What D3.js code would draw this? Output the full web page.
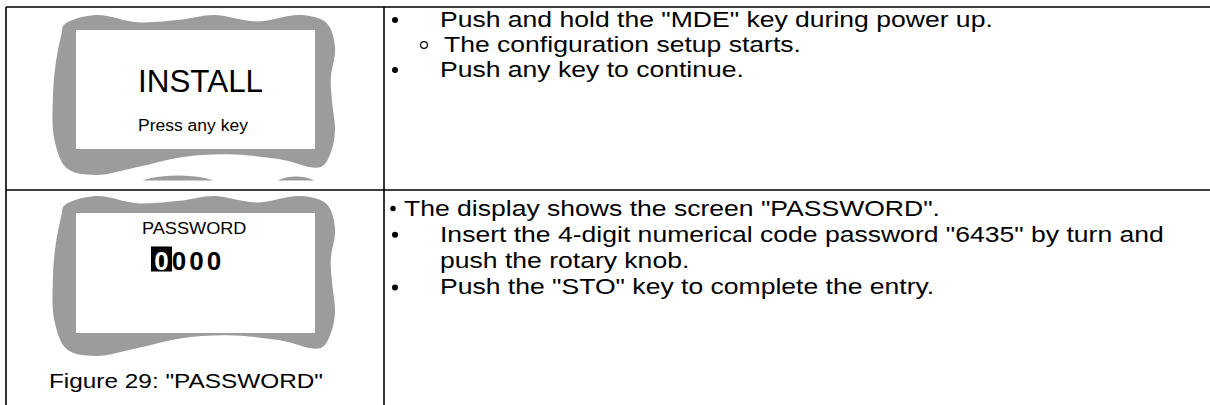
<!DOCTYPE html>
<html><head><meta charset="utf-8">
<script src="https://cdn.jsdelivr.net/npm/d3@7"></script>
<style>html,body{margin:0;padding:0;background:#fff;}svg{display:block;}</style>
</head><body>
<script>
// ---- content ----
const screenTitles = ["INSTALL", "PASSWORD"];
const screenSubtitles = ["Press any key"];
const passwordDigits = ["0", "0", "0", "0"];
const highlightedDigit = 0;
const captionText = 'Figure 29: "PASSWORD"';
const row1Lines = [
  {bullet: "disc", text: 'Push and hold the "MDE" key during power up.'},
  {bullet: "circle", text: "The configuration setup starts."},
  {bullet: "disc", text: "Push any key to continue."}
];
const row2Lines = [
  {bullet: "tight", text: 'The display shows the screen "PASSWORD".'},
  {bullet: "disc", text: 'Insert the 4-digit numerical code password "6435" by turn and'},
  {bullet: "none", text: "push the rotary knob."},
  {bullet: "disc", text: 'Push the "STO" key to complete the entry.'}
];
// wavy frame outline, normalised (u,v) in the frame box
const frameOutline = [
  [0.04,0.06],[0.15,0.0],[0.3,0.045],[0.45,0.03],[0.57,0.0],[0.72,0.04],[0.88,0.0],[0.97,0.05],
  [1.0,0.2],[0.985,0.4],[0.99,0.55],[1.0,0.72],[0.985,0.86],[0.95,0.95],
  [0.8,0.9],[0.62,0.87],[0.45,0.89],[0.3,0.95],[0.15,1.0],[0.05,0.96],
  [0.005,0.78],[0.0,0.5],[0.01,0.3],[0.03,0.12]
];

const W = 1210, H = 405;
const FONT = "'Liberation Sans', Arial, Helvetica, sans-serif";
const svg = d3.select("body").append("svg").attr("width", W).attr("height", H);

// table grid
const tableTop = 7, tableLeft = 6, colDiv = 384, rowDiv = 190;
const grid = svg.append("g").attr("stroke", "#000").attr("stroke-width", 1.6);
grid.append("line").attr("x1", tableLeft).attr("x2", W).attr("y1", tableTop).attr("y2", tableTop);
grid.append("line").attr("x1", tableLeft).attr("x2", W).attr("y1", rowDiv).attr("y2", rowDiv);
grid.append("line").attr("x1", tableLeft).attr("x2", tableLeft).attr("y1", tableTop).attr("y2", H);
grid.append("line").attr("x1", colDiv).attr("x2", colDiv).attr("y1", tableTop).attr("y2", H);

// frames
function drawFrame(g, box, inner) {
  const sx = d3.scaleLinear().domain([0, 1]).range([box.x0, box.x1]);
  const sy = d3.scaleLinear().domain([0, 1]).range([box.y0, box.y1]);
  const line = d3.line().x(d => sx(d[0])).y(d => sy(d[1])).curve(d3.curveCatmullRomClosed.alpha(0.5));
  g.append("path").attr("d", line(frameOutline)).attr("fill", "#9c9c9c");
  g.append("rect").attr("x", inner.x0).attr("y", inner.y0)
    .attr("width", inner.x1 - inner.x0).attr("height", inner.y1 - inner.y0).attr("fill", "#fff");
}
const frames = svg.append("g");
drawFrame(frames, {x0: 53, x1: 335, y0: 15, y1: 175}, {x0: 76, x1: 315, y0: 30, y1: 149});
drawFrame(frames, {x0: 53, x1: 335, y0: 196, y1: 356}, {x0: 76, x1: 315, y0: 213, y1: 333});

// ghost slivers of a clipped frame below screen 1
svg.append("clipPath").attr("id", "c1").append("rect").attr("x", 0).attr("y", 0).attr("width", colDiv).attr("height", 180.5);
const ghost = svg.append("g").attr("clip-path", "url(#c1)").attr("fill", "#9c9c9c");
ghost.append("ellipse").attr("cx", 178).attr("cy", 184).attr("rx", 38).attr("ry", 8.5);
ghost.append("ellipse").attr("cx", 296).attr("cy", 184).attr("rx", 20).attr("ry", 7.5);

function stretchedText(g, x, y, txt, size, sx, opts = {}) {
  return g.append("text").attr("transform", `translate(${x},${y}) scale(${sx},1)`)
    .attr("font-family", FONT).attr("font-size", size)
    .attr("font-weight", opts.weight || "normal")
    .attr("fill", opts.fill || "#000").text(txt);
}

// screen 1 text
stretchedText(svg, 138, 92, screenTitles[0], 30.5, 1.03);
stretchedText(svg, 138, 131, screenSubtitles[0], 17, 1.03);

// screen 2 text
stretchedText(svg, 142, 234, screenTitles[1], 16.5, 1.1);
const digitX = d3.scalePoint().domain(d3.range(passwordDigits.length)).range([161.5, 214]);
svg.append("rect").attr("x", digitX(highlightedDigit) - 10.5).attr("y", 246.5)
  .attr("width", 21).attr("height", 25).attr("fill", "#000");
svg.append("g").selectAll("text").data(passwordDigits).join("text")
  .attr("x", (d, i) => digitX(i)).attr("y", 269.5).attr("text-anchor", "middle")
  .attr("font-family", FONT).attr("font-size", 26).attr("font-weight", "bold")
  .attr("fill", (d, i) => i === highlightedDigit ? "#fff" : "#000").text(d => d);

// caption
stretchedText(svg, 49, 387.5, captionText, 21, 1.16);

// body text
const bodySize = 21.5, bodySx = 1.235;
function drawLines(lines, firstBaseline, pitch) {
  const y = d3.scaleLinear().domain([0, 1]).range([firstBaseline, firstBaseline + pitch]);
  const g = svg.append("g");
  lines.forEach((l, i) => {
    const by = y(i);
    let tx = 440;
    if (l.bullet === "disc") {
      g.append("circle").attr("cx", 395).attr("cy", by - 7).attr("r", 3).attr("fill", "#000");
    } else if (l.bullet === "tight") {
      g.append("circle").attr("cx", 393).attr("cy", by - 7).attr("r", 2.7).attr("fill", "#000");
      tx = 404;
    } else if (l.bullet === "circle") {
      g.append("circle").attr("cx", 424).attr("cy", by - 7).attr("r", 3.4)
        .attr("fill", "none").attr("stroke", "#000").attr("stroke-width", 1.2);
      tx = 444;
    }
    stretchedText(g, tx, by, l.text, bodySize, bodySx);
  });
}
drawLines(row1Lines, 27, 25);
drawLines(row2Lines, 215.5, 26.3);
</script>
</body></html>
